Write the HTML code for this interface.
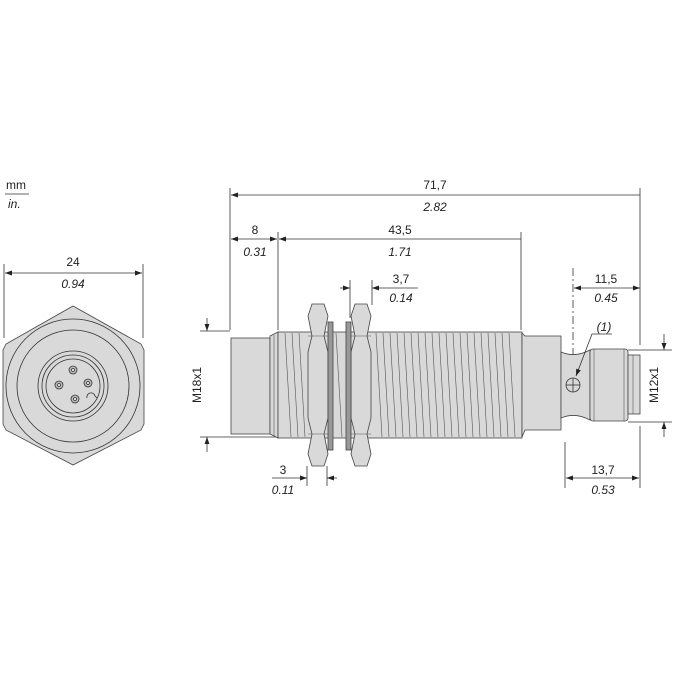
<!DOCTYPE html>
<html><head><meta charset="utf-8"><style>
html,body{margin:0;padding:0;background:#fff;width:675px;height:675px;overflow:hidden}
text{font-family:"Liberation Sans",sans-serif;font-size:12px;fill:#222}
.i{font-style:italic}
</style></head><body>
<svg width="675" height="675" viewBox="0 0 675 675" xmlns="http://www.w3.org/2000/svg">
<defs>
<marker id="a" viewBox="0 0 10 10" refX="10" refY="5" markerWidth="9" markerHeight="7" orient="auto-start-reverse" markerUnits="userSpaceOnUse"><path d="M0,1.5 L10,5 L0,8.5z" fill="#222"/></marker>
</defs>
<g stroke="#333" stroke-width="0.8" fill="none">
<!-- mm/in -->
<line x1="5" y1="194" x2="29" y2="194"/>
<!-- 24 dim -->
<line x1="4" y1="264" x2="4" y2="338"/><line x1="143" y1="264" x2="143" y2="338"/>
<line x1="5" y1="273" x2="142" y2="273" marker-start="url(#a)" marker-end="url(#a)"/>
<!-- hex -->
<polygon points="73,306 141,344 144,350 144,424 141,430 73,465 6,430 3,424 3,350 6,344" fill="#d9d9d9" stroke="#444"/>
<circle cx="73" cy="386" r="67"/><circle cx="73" cy="386" r="56"/>
<circle cx="73" cy="386" r="35"/><circle cx="73" cy="386" r="31"/><circle cx="73" cy="386" r="27"/>
<g fill="#bbb"><circle cx="73" cy="370" r="4"/><circle cx="59" cy="385" r="4"/><circle cx="88" cy="383" r="4"/><circle cx="75" cy="399" r="4"/></g>
<g fill="#eee"><circle cx="73" cy="370" r="1.5"/><circle cx="59" cy="385" r="1.5"/><circle cx="88" cy="383" r="1.5"/><circle cx="75" cy="399" r="1.5"/></g>
<path d="M87,398 a4,4 0 0 1 8,-2 l2,2" />
<!-- extension lines -->
<line x1="230" y1="188" x2="230" y2="330"/>
<line x1="640" y1="188" x2="640" y2="345"/>
<line x1="278" y1="232" x2="278" y2="330"/>
<line x1="521" y1="232" x2="521" y2="330"/>
<line x1="350" y1="280" x2="350" y2="318"/>
<line x1="372" y1="280" x2="372" y2="305"/>
<line x1="573" y1="268" x2="573" y2="380" stroke-dasharray="8,3,2,3"/>
<line x1="200" y1="331" x2="230" y2="331"/>
<line x1="200" y1="437" x2="278" y2="437"/>
<line x1="628" y1="350" x2="672" y2="350"/>
<line x1="628" y1="422" x2="672" y2="422"/>
<line x1="307" y1="466" x2="307" y2="486"/>
<line x1="327" y1="466" x2="327" y2="486"/>
<line x1="565" y1="442" x2="565" y2="488"/>
<line x1="640" y1="426" x2="640" y2="488"/>
<!-- dim lines -->
<line x1="231" y1="195" x2="640" y2="195" marker-start="url(#a)"/>
<line x1="231" y1="239" x2="277" y2="239" marker-start="url(#a)" marker-end="url(#a)"/>
<line x1="279" y1="239" x2="521" y2="239" marker-start="url(#a)"/>
<line x1="340" y1="288" x2="350" y2="288" marker-end="url(#a)"/>
<line x1="372" y1="288" x2="418" y2="288" marker-start="url(#a)"/>
<line x1="574" y1="288" x2="640" y2="288" marker-start="url(#a)" marker-end="url(#a)"/>
<line x1="207" y1="318" x2="207" y2="331" marker-end="url(#a)"/>
<line x1="207" y1="437" x2="207" y2="452" marker-start="url(#a)"/>
<line x1="664" y1="334" x2="664" y2="350" marker-end="url(#a)"/>
<line x1="664" y1="422" x2="664" y2="437" marker-start="url(#a)"/>
<line x1="272" y1="478" x2="307" y2="478" marker-end="url(#a)"/>
<line x1="327" y1="478" x2="337" y2="478" marker-start="url(#a)"/>
<line x1="566" y1="478" x2="639" y2="478" marker-start="url(#a)" marker-end="url(#a)"/>
<line x1="260" y1="475" x2="307" y2="475" stroke="none"/>
</g>
<!-- sensor body -->
<g stroke="#444" stroke-width="0.8" fill="#d9d9d9">
<rect x="231" y="338" width="39" height="96"/>
<path d="M270,336 L278,332 L278,438 L270,434z"/>
<rect x="278" y="332" width="244" height="106"/>
<path d="M522,333 L525,336 L561,336 L561,430 L525,430 L522,437z"/>
<path d="M561,352 Q575,358 590,350 L590,420 Q575,412 561,418z"/>
<rect x="590" y="349" width="38" height="72" rx="3"/>
<rect x="628" y="355" width="12" height="59"/>
<!-- nuts -->
<path d="M312,304 L324,304 L328,316 L324,336 L328,352 L328,418 L324,434 L328,454 L324,466 L312,466 L308,454 L312,434 L308,418 L308,352 L312,336 L308,316z"/>
<path d="M355,304 L367,304 L371,316 L367,336 L371,352 L371,418 L367,434 L371,454 L367,466 L355,466 L351,454 L355,434 L351,418 L351,352 L355,336 L351,316z"/>
<rect x="328" y="322" width="5" height="128" fill="#999"/>
<rect x="346" y="322" width="5" height="128" fill="#999"/>
</g>
<g stroke="#555" stroke-width="0.6">
<line x1="308" y1="336" x2="328" y2="336"/><line x1="308" y1="434" x2="328" y2="434"/>
<line x1="351" y1="336" x2="371" y2="336"/><line x1="351" y1="434" x2="371" y2="434"/>
<line x1="594" y1="349" x2="594" y2="421"/><line x1="624" y1="349" x2="624" y2="421"/>
<line x1="633" y1="355" x2="633" y2="414"/>
<line x1="274" y1="335" x2="274" y2="436"/>
<path d="M285,333l6,104M292,333l6,104M299,333l6,104M336,333l6,104M376,333l6,104M383,333l6,104M390,333l6,104M397,333l6,104M404,333l6,104M411,333l6,104M418,333l6,104M425,333l6,104M432,333l6,104M439,333l6,104M446,333l6,104M453,333l6,104M460,333l6,104M467,333l6,104M474,333l6,104M481,333l6,104M488,333l6,104M495,333l6,104M502,333l6,104M509,333l6,104"/>
</g>
<!-- (1) marker -->
<g stroke="#333" stroke-width="0.8" fill="none">
<circle cx="573" cy="385" r="7" fill="#d9d9d9"/>
<line x1="566" y1="385" x2="580" y2="385"/><line x1="573" y1="378" x2="573" y2="392"/>
<line x1="612" y1="334" x2="592" y2="334"/>
<line x1="592" y1="334" x2="576" y2="376" marker-end="url(#a)"/>
</g>
<!-- texts -->
<text x="6" y="189">mm</text>
<text x="8" y="208" class="i">in.</text>
<text x="73" y="266" text-anchor="middle">24</text>
<text x="73" y="288" text-anchor="middle" class="i">0.94</text>
<text x="435" y="189" text-anchor="middle">71,7</text>
<text x="435" y="211" text-anchor="middle" class="i">2.82</text>
<text x="255" y="234" text-anchor="middle">8</text>
<text x="255" y="256" text-anchor="middle" class="i">0.31</text>
<text x="400" y="234" text-anchor="middle">43,5</text>
<text x="400" y="256" text-anchor="middle" class="i">1.71</text>
<text x="401" y="283" text-anchor="middle">3,7</text>
<text x="401" y="302" text-anchor="middle" class="i">0.14</text>
<text x="606" y="283" text-anchor="middle">11,5</text>
<text x="606" y="302" text-anchor="middle" class="i">0.45</text>
<text x="604" y="331" text-anchor="middle" class="i">(1)</text>
<text x="283" y="474" text-anchor="middle">3</text>
<text x="283" y="494" text-anchor="middle" class="i">0.11</text>
<text x="603" y="474" text-anchor="middle">13,7</text>
<text x="603" y="494" text-anchor="middle" class="i">0.53</text>
<text transform="translate(201,385) rotate(-90)" text-anchor="middle">M18x1</text>
<text transform="translate(658,385) rotate(-90)" text-anchor="middle">M12x1</text>
</svg>
</body></html>
